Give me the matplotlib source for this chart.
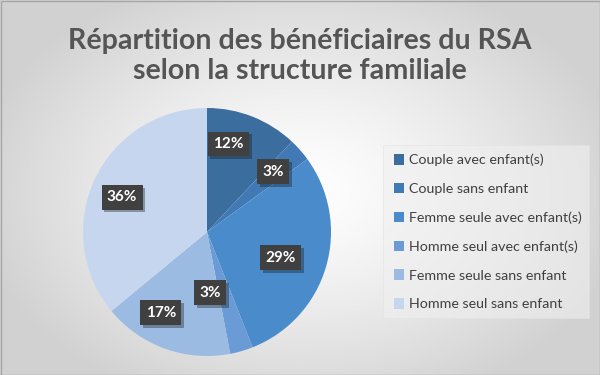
import numpy as np
import matplotlib
matplotlib.use("Agg")
import matplotlib.pyplot as plt
import matplotlib.patheffects as pe
from matplotlib.patches import Rectangle, Patch

title = "Répartition des bénéficiaires du RSA\nselon la structure familiale"
categories = ["Couple avec enfant(s)", "Couple sans enfant", "Femme seule avec enfant(s)",
              "Homme seul avec enfant(s)", "Femme seule sans enfant", "Homme seul sans enfant"]
values = [12, 3, 29, 3, 17, 36]
colors = ["#3b6e9e", "#4079b3", "#4a8bcb", "#6a9bd6", "#9bbbe2", "#c6d6ee"]

plt.rcParams['font.family'] = ['Lato', 'DejaVu Sans']

W, H = 600, 375
fig = plt.figure(figsize=(6, 3.75), dpi=100)

# background radial gradient
bg = fig.add_axes([0, 0, 1, 1], zorder=-10)
yy, xx = np.mgrid[0:H, 0:W]
d = np.sqrt(((xx - 300) / 330.0) ** 2 + ((yy - 190) / 230.0) ** 2)
d = np.clip(d, 0, 1)
val = 1.0 - 0.18 * d ** 1.3
img = np.dstack([val, val, val])
bg.imshow(img, extent=[0, W, H, 0], aspect='auto')
bg.add_patch(Rectangle((0.5, 0.5), W - 1, H - 1, fill=False, edgecolor="#a6a6a6", lw=1))
# legend box
bg.add_patch(Rectangle((383, 145), 206, 173, facecolor="#f0f0f0", edgecolor="#e2e2e2", lw=0.6, alpha=0.6))
bg.set_xlim(0, W); bg.set_ylim(H, 0)
bg.axis('off')

fig.text(0.5, 1 - 56 / H, title, ha='center', va='center', fontsize=20.6, fontweight='bold',
         color="#555555", linespacing=1.18)

cx, cy, R = 207, 232, 124
ax = fig.add_axes([(cx - R) / W, (H - cy - R) / H, 2 * R / W, 2 * R / H])
wedges, _ = ax.pie(values, colors=colors, startangle=90, counterclock=False, radius=1,
                   wedgeprops=dict(linewidth=0))
ax.set_xlim(-1, 1); ax.set_ylim(-1, 1)
ax.set_aspect('equal')
ax.axis('off')

# label placement (radius fraction, angle tweak in degrees) per slice
label_r = [0.73, 0.72, 0.63, 0.49, 0.75, 0.74]
label_da = [8, 1, -3, -13, -10, 3]
for w, v, r, da in zip(wedges, values, label_r, label_da):
    mid = np.deg2rad((w.theta1 + w.theta2) / 2 + da)
    t = ax.text(r * np.cos(mid), r * np.sin(mid), f"{v}%", ha='center', va='center',
                color='white', fontsize=11, fontweight='bold',
                bbox=dict(boxstyle='square,pad=0.35', facecolor='#404040', edgecolor='none'))
    t.get_bbox_patch().set_path_effects([pe.SimplePatchShadow(offset=(2, -2), alpha=0.35), pe.Normal()])

handles = [Patch(facecolor=c, edgecolor='none') for c in colors]
fig.legend(handles, categories, loc='upper left', bbox_to_anchor=(388 / W, 1 - 148 / H),
           frameon=False, fontsize=10.3, labelspacing=1.15, handlelength=0.75, handleheight=0.75,
           handletextpad=0.3, labelcolor="#404040", borderaxespad=0)

fig.savefig("out.png", dpi=100)
